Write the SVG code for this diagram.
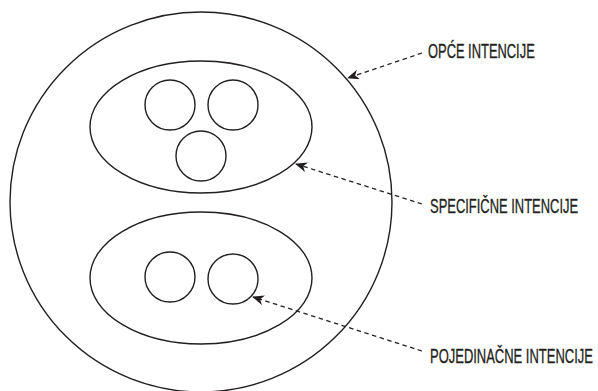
<svg xmlns="http://www.w3.org/2000/svg" width="598" height="391" viewBox="0 0 598 391">
<style>
.s{fill:none;stroke:#231f20;stroke-width:1.4}
.c{fill:none;stroke:#231f20;stroke-width:1.3;stroke-dasharray:4.5 3.5}
.t{font-family:"Liberation Sans",Arial,sans-serif;font-size:21px;fill:#231f20;stroke:#231f20;stroke-width:0.35}
</style>
<defs>
<marker id="ah" viewBox="0 0 12 10" refX="11" refY="5" markerWidth="12" markerHeight="10" markerUnits="userSpaceOnUse" orient="auto">
<path d="M0,0 L12,5 L0,10 L3.5,5 Z" fill="#231f20"/>
</marker>
</defs>
<g id="outer"><ellipse class="s" cx="201" cy="202" rx="191" ry="190"/></g>
<g id="upper"><ellipse class="s" cx="201" cy="127" rx="111" ry="66"/></g>
<g id="lower"><ellipse class="s" cx="201" cy="278" rx="111" ry="66"/></g>
<g id="u1"><circle class="s" cx="170" cy="105" r="25"/></g>
<g id="u2"><circle class="s" cx="233" cy="105" r="25"/></g>
<g id="u3"><circle class="s" cx="201" cy="156" r="25"/></g>
<g id="l1"><circle class="s" cx="170" cy="277" r="25"/></g>
<g id="l2"><circle class="s" cx="233" cy="279" r="25"/></g>
<g id="connectors">
<line class="c" x1="422" y1="53" x2="348" y2="78" marker-end="url(#ah)"/>
<line class="c" x1="422" y1="204" x2="296" y2="164" marker-end="url(#ah)"/>
<line class="c" x1="422" y1="351" x2="253" y2="297" marker-end="url(#ah)"/>
</g>
<g id="labels">
<text class="t" transform="translate(428,58) scale(0.617,1)" x="0" y="0" textLength="173" lengthAdjust="spacingAndGlyphs">OPĆE INTENCIJE</text>
<text class="t" transform="translate(430,213) scale(0.617,1)" x="0" y="0" textLength="240" lengthAdjust="spacingAndGlyphs">SPECIFIČNE INTENCIJE</text>
<text class="t" transform="translate(430,363) scale(0.617,1)" x="0" y="0" textLength="264" lengthAdjust="spacingAndGlyphs">POJEDINAČNE INTENCIJE</text>
</g>
</svg>
